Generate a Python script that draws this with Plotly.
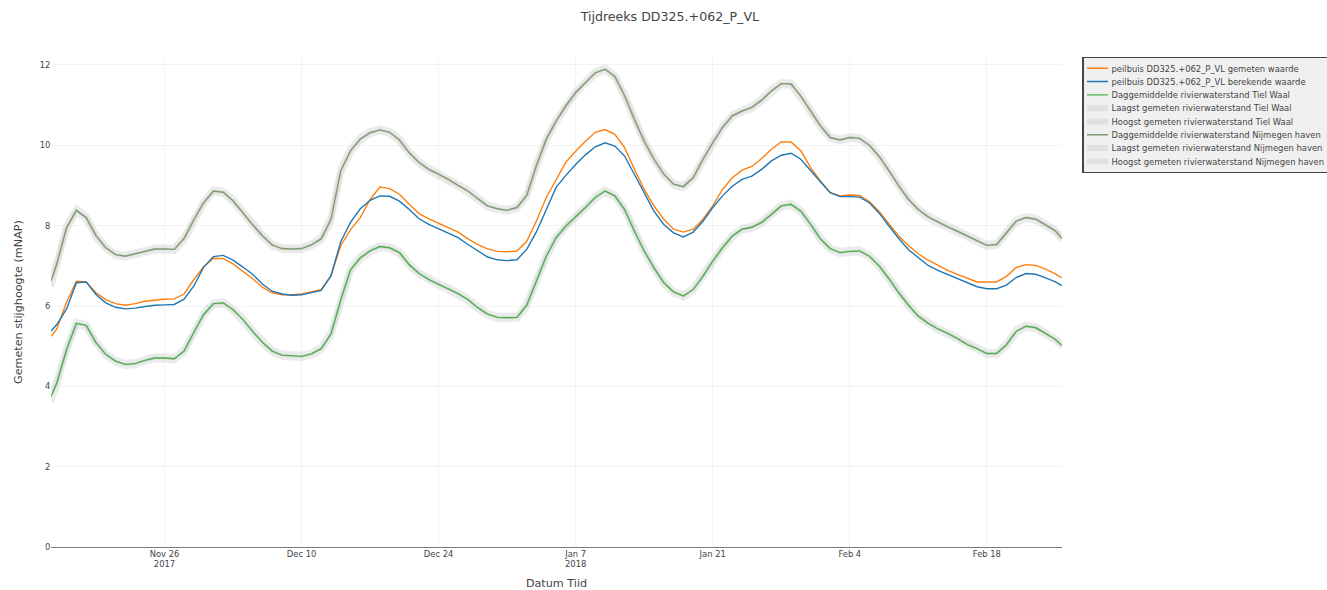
import pandas as pd
import plotly.graph_objects as go

# Time axis: first reading mid-morning on 14 Nov, then daily values, last reading on 25 Feb afternoon
dates = (
    [pd.Timestamp("2017-11-14 10:00")]
    + list(pd.date_range("2017-11-15", "2018-02-25", freq="D"))
    + [pd.Timestamp("2018-02-25 16:00")]
)

# Piezometer DD325.+062_P_VL: measured and calculated head (m NAP)
gemeten = [5.25, 5.43, 6.1, 6.62, 6.6, 6.33, 6.16, 6.06, 6.02, 6.06,
           6.12, 6.15, 6.17, 6.18, 6.3, 6.66, 6.98, 7.19, 7.18, 7.05,
           6.87, 6.68, 6.47, 6.33, 6.28, 6.28, 6.3, 6.35, 6.41, 6.75,
           7.5, 7.9, 8.2, 8.65, 8.96, 8.92, 8.78, 8.53, 8.3, 8.17,
           8.06, 7.95, 7.84, 7.67, 7.53, 7.42, 7.36, 7.35, 7.37, 7.61,
           8.12, 8.7, 9.15, 9.58, 9.85, 10.1, 10.32, 10.39, 10.27, 9.94,
           9.4, 8.9, 8.49, 8.16, 7.91, 7.84, 7.91, 8.16, 8.49, 8.9,
           9.19, 9.38, 9.47, 9.67, 9.9, 10.08, 10.08, 9.86, 9.44, 9.11,
           8.82, 8.74, 8.76, 8.75, 8.6, 8.35, 8.05, 7.74, 7.5, 7.3,
           7.14, 7.01, 6.89, 6.79, 6.69, 6.6, 6.6, 6.6, 6.74, 6.96,
           7.03, 7.01, 6.92, 6.8, 6.7]

berekend = [5.38, 5.54, 5.93, 6.58, 6.6, 6.29, 6.08, 5.97, 5.93, 5.95,
            5.99, 6.02, 6.03, 6.04, 6.17, 6.5, 6.97, 7.23, 7.26, 7.14,
            6.97, 6.79, 6.55, 6.37, 6.3, 6.27, 6.28, 6.33, 6.39, 6.75,
            7.6, 8.08, 8.42, 8.63, 8.74, 8.73, 8.61, 8.4, 8.17, 8.03,
            7.92, 7.82, 7.7, 7.53, 7.37, 7.22, 7.15, 7.13, 7.15, 7.41,
            7.85, 8.4, 8.95, 9.25, 9.52, 9.76, 9.96, 10.06, 9.98, 9.73,
            9.28, 8.82, 8.36, 8.03, 7.82, 7.72, 7.84, 8.11, 8.45, 8.74,
            8.98, 9.15, 9.23, 9.4, 9.61, 9.75, 9.8, 9.65, 9.36, 9.09,
            8.82, 8.72, 8.72, 8.71, 8.57, 8.31, 7.99, 7.68, 7.4, 7.2,
            7.01, 6.89, 6.79, 6.68, 6.58, 6.48, 6.43, 6.43, 6.52, 6.71,
            6.81, 6.79, 6.7, 6.6, 6.51]

# River stage Tiel Waal: daily mean, lowest and highest measured
tiel_gem = [3.75, 4.09, 4.92, 5.57, 5.52, 5.09, 4.8, 4.63, 4.55, 4.57,
            4.65, 4.71, 4.71, 4.69, 4.88, 5.35, 5.79, 6.06, 6.08, 5.91,
            5.67, 5.37, 5.1, 4.88, 4.78, 4.76, 4.75, 4.81, 4.94, 5.3,
            6.15, 6.9, 7.2, 7.37, 7.48, 7.45, 7.33, 7.03, 6.81, 6.66,
            6.54, 6.43, 6.31, 6.16, 5.96, 5.8, 5.72, 5.71, 5.72, 6.02,
            6.64, 7.24, 7.7, 7.99, 8.22, 8.45, 8.7, 8.86, 8.74, 8.4,
            7.86, 7.37, 6.95, 6.58, 6.35, 6.25, 6.41, 6.74, 7.12, 7.45,
            7.74, 7.91, 7.96, 8.08, 8.28, 8.49, 8.53, 8.36, 8.03, 7.67,
            7.43, 7.33, 7.36, 7.37, 7.24, 7.0, 6.68, 6.33, 6.02, 5.75,
            5.57, 5.43, 5.32, 5.19, 5.04, 4.94, 4.82, 4.82, 5.04, 5.37,
            5.5, 5.46, 5.32, 5.17, 5.02]

tiel_laag = [3.62, 4.02, 4.86, 5.52, 5.47, 5.05, 4.76, 4.59, 4.51, 4.53,
             4.61, 4.67, 4.67, 4.65, 4.83, 5.29, 5.74, 6.02, 6.04, 5.87,
             5.62, 5.32, 5.05, 4.84, 4.74, 4.72, 4.71, 4.77, 4.89, 5.23,
             6.07, 6.84, 7.15, 7.33, 7.44, 7.41, 7.28, 6.98, 6.77, 6.62,
             6.5, 6.39, 6.27, 6.11, 5.91, 5.76, 5.68, 5.67, 5.68, 5.96,
             6.57, 7.18, 7.65, 7.95, 8.18, 8.41, 8.65, 8.82, 8.7, 8.35,
             7.8, 7.31, 6.9, 6.53, 6.31, 6.21, 6.36, 6.68, 7.06, 7.4,
             7.7, 7.87, 7.92, 8.04, 8.23, 8.45, 8.49, 8.32, 7.98, 7.62,
             7.39, 7.29, 7.32, 7.33, 7.2, 6.95, 6.63, 6.28, 5.97, 5.71,
             5.53, 5.39, 5.28, 5.15, 5.0, 4.9, 4.78, 4.78, 4.99, 5.31,
             5.46, 5.42, 5.28, 5.13, 4.98]

tiel_hoog = [3.86, 4.16, 4.98, 5.61, 5.56, 5.13, 4.84, 4.67, 4.59, 4.61,
             4.69, 4.75, 4.75, 4.73, 4.93, 5.41, 5.84, 6.1, 6.12, 5.95,
             5.72, 5.42, 5.15, 4.92, 4.82, 4.8, 4.79, 4.85, 4.99, 5.37,
             6.23, 6.96, 7.25, 7.41, 7.52, 7.49, 7.37, 7.08, 6.85, 6.7,
             6.58, 6.47, 6.35, 6.21, 6.01, 5.84, 5.76, 5.75, 5.76, 6.08,
             6.71, 7.3, 7.75, 8.03, 8.26, 8.49, 8.75, 8.9, 8.78, 8.45,
             7.92, 7.43, 7.0, 6.63, 6.39, 6.29, 6.46, 6.8, 7.18, 7.5,
             7.78, 7.95, 8.0, 8.12, 8.33, 8.53, 8.57, 8.4, 8.08, 7.72,
             7.47, 7.37, 7.4, 7.41, 7.28, 7.05, 6.73, 6.38, 6.07, 5.79,
             5.61, 5.47, 5.36, 5.23, 5.08, 4.98, 4.86, 4.86, 5.09, 5.43,
             5.54, 5.5, 5.36, 5.21, 5.06]

# River stage Nijmegen haven: daily mean, lowest and highest measured
nijm_gem = [6.62, 7.05, 7.95, 8.38, 8.2, 7.75, 7.45, 7.28, 7.24, 7.3,
            7.36, 7.42, 7.42, 7.41, 7.68, 8.15, 8.57, 8.86, 8.83, 8.62,
            8.32, 8.02, 7.75, 7.52, 7.43, 7.42, 7.43, 7.52, 7.67, 8.15,
            9.36, 9.86, 10.15, 10.31, 10.38, 10.32, 10.13, 9.81, 9.57, 9.4,
            9.28, 9.15, 9.0, 8.86, 8.67, 8.49, 8.42, 8.38, 8.45, 8.75,
            9.5, 10.15, 10.6, 10.98, 11.31, 11.56, 11.8, 11.89, 11.71, 11.23,
            10.64, 10.1, 9.65, 9.28, 9.03, 8.97, 9.19, 9.65, 10.06, 10.44,
            10.73, 10.85, 10.94, 11.12, 11.35, 11.53, 11.52, 11.22, 10.85, 10.48,
            10.19, 10.13, 10.19, 10.17, 10.0, 9.72, 9.37, 8.99, 8.65, 8.4,
            8.22, 8.09, 7.97, 7.86, 7.74, 7.62, 7.51, 7.53, 7.82, 8.11,
            8.2, 8.16, 8.02, 7.87, 7.68]

nijm_laag = [6.48, 6.97, 7.88, 8.33, 8.15, 7.7, 7.41, 7.24, 7.2, 7.26,
             7.32, 7.38, 7.38, 7.37, 7.62, 8.09, 8.52, 8.82, 8.79, 8.57,
             8.27, 7.97, 7.7, 7.48, 7.39, 7.38, 7.39, 7.48, 7.62, 8.08,
             9.28, 9.8, 10.1, 10.27, 10.34, 10.28, 10.08, 9.76, 9.53, 9.36,
             9.24, 9.11, 8.96, 8.81, 8.62, 8.45, 8.38, 8.34, 8.41, 8.69,
             9.43, 10.09, 10.55, 10.94, 11.27, 11.52, 11.75, 11.85, 11.67, 11.17,
             10.58, 10.05, 9.6, 9.24, 8.99, 8.93, 9.14, 9.59, 10.0, 10.39,
             10.69, 10.81, 10.9, 11.07, 11.3, 11.49, 11.48, 11.17, 10.8, 10.43,
             10.15, 10.09, 10.15, 10.13, 9.95, 9.67, 9.32, 8.94, 8.6, 8.36,
             8.18, 8.05, 7.93, 7.82, 7.7, 7.58, 7.47, 7.49, 7.76, 8.06,
             8.16, 8.12, 7.98, 7.83, 7.64]

nijm_hoog = [6.72, 7.12, 8.02, 8.43, 8.25, 7.8, 7.49, 7.32, 7.28, 7.34,
             7.4, 7.46, 7.46, 7.45, 7.74, 8.21, 8.62, 8.9, 8.87, 8.67,
             8.37, 8.07, 7.8, 7.56, 7.47, 7.46, 7.47, 7.56, 7.72, 8.22,
             9.44, 9.92, 10.2, 10.35, 10.42, 10.36, 10.18, 9.86, 9.61, 9.44,
             9.32, 9.19, 9.04, 8.91, 8.72, 8.53, 8.46, 8.42, 8.49, 8.81,
             9.57, 10.21, 10.65, 11.02, 11.35, 11.6, 11.85, 11.93, 11.75, 11.29,
             10.7, 10.15, 9.7, 9.32, 9.07, 9.01, 9.24, 9.71, 10.12, 10.49,
             10.77, 10.89, 10.98, 11.17, 11.4, 11.57, 11.56, 11.27, 10.9, 10.53,
             10.23, 10.17, 10.23, 10.21, 10.05, 9.77, 9.42, 9.04, 8.7, 8.44,
             8.26, 8.13, 8.01, 7.9, 7.78, 7.66, 7.55, 7.57, 7.88, 8.16,
             8.24, 8.2, 8.06, 7.91, 7.72]

for series in (gemeten, berekend, tiel_gem, tiel_laag, tiel_hoog,
               nijm_gem, nijm_laag, nijm_hoog):
    assert len(series) == len(dates), len(series)

FONT = "Verdana, 'DejaVu Sans', sans-serif"
BAND = dict(color="rgba(190,190,190,0.3)", width=8.5)

fig = go.Figure()

# Min/max bands are drawn first so the mean lines sit on top of them
band_traces = [
    ("Laagst gemeten rivierwaterstand Tiel Waal", tiel_laag, 4),
    ("Hoogst gemeten rivierwaterstand Tiel Waal", tiel_hoog, 5),
    ("Laagst gemeten rivierwaterstand Nijmegen haven", nijm_laag, 7),
    ("Hoogst gemeten rivierwaterstand Nijmegen haven", nijm_hoog, 8),
]
for name, values, rank in band_traces:
    fig.add_trace(go.Scatter(x=dates, y=values, mode="lines", name=name,
                             line=BAND, legendrank=rank))

line_traces = [
    ("peilbuis DD325.+062_P_VL gemeten waarde", gemeten, "#ff7f0e", 1),
    ("peilbuis DD325.+062_P_VL berekende waarde", berekend, "#1f77b4", 2),
    ("Daggemiddelde rivierwaterstand Tiel Waal", tiel_gem, "#4cb04c", 3),
    ("Daggemiddelde rivierwaterstand Nijmegen haven", nijm_gem, "#7f9c70", 6),
]
for name, values, color, rank in line_traces:
    fig.add_trace(go.Scatter(x=dates, y=values, mode="lines", name=name,
                             line=dict(color=color, width=2), legendrank=rank))

W, H = 1896, 843
fig.update_layout(
    template="none",
    width=W,
    height=H,
    margin=dict(l=73, r=379, t=81, b=61, autoexpand=False),
    paper_bgcolor="white",
    plot_bgcolor="white",
    font=dict(family=FONT, size=12, color="#444"),
    title=dict(text="Tijdreeks DD325.+062_P_VL", x=0.5047, xanchor="center",
               y=1 - 24 / H, yanchor="middle", font=dict(size=18)),
    showlegend=True,
    legend=dict(x=1.02, y=1, xanchor="left", yanchor="top",
                bgcolor="#f0f0f0", bordercolor="#444", borderwidth=2,
                font=dict(size=12)),
    xaxis=dict(
        title=dict(text="Datum Tiid", font=dict(size=16), standoff=19),
        type="date",
        tick0="2017-11-26",
        dtick=14 * 86400000,
        showgrid=True, gridcolor="#eee", gridwidth=1,
        showline=False, zeroline=False, ticks="",
    ),
    yaxis=dict(
        title=dict(text="Gemeten stijghoogte (mNAP)", font=dict(size=16)),
        range=[0, 12.2],
        dtick=2,
        showgrid=True, gridcolor="#eee", gridwidth=1,
        zeroline=True, zerolinecolor="#444", zerolinewidth=1,
        showline=False, ticks="",
    ),
)

# The figure is laid out at a larger size and shown at 70 % page zoom
fig.write_html(
    "out.html",
    post_script=(
        "document.documentElement.style.overflow='hidden';"
        "document.body.style.margin='0';"
        "document.body.style.overflow='hidden';"
        "document.body.style.zoom='0.7';"
    ),
)
